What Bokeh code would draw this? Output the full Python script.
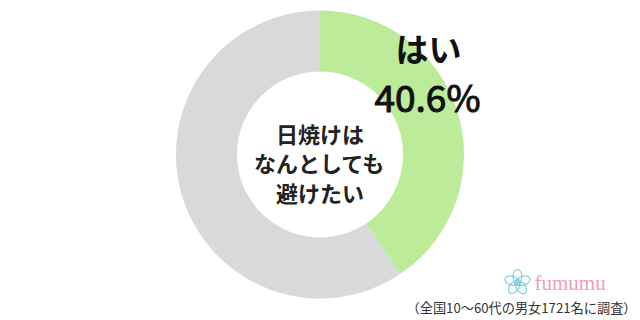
import numpy as np
from bokeh.plotting import figure
from bokeh.models import Range1d
from bokeh.core.properties import value
from bokeh.embed import file_html
from bokeh.resources import INLINE

# data
labels = ["はい", "いいえ"]
values = [40.6, 59.4]
colors = ["#bcec9a", "#d9d9d9"]
center_lines = ["日焼けは", "なんとしても", "避けたい"]
label_text = "はい"
pct_text = "40.6%"
note_text = "（全国10〜60代の男女1721名に調査）"
brand = "fumumu"

W, H = 640, 320
p = figure(width=W, height=H, output_backend="svg", toolbar_location=None,
           x_range=Range1d(0, W), y_range=Range1d(0, H), min_border=0)
p.axis.visible = False
p.grid.visible = False
p.outline_line_color = None
p.background_fill_color = "white"
p.border_fill_color = "white"

cx, cy = 319.5, H - 154
r_out, r_in = 144, 83
fr = np.array(values) / sum(values)
ends = np.cumsum(fr)
starts = ends - fr
start_a = np.pi / 2 - 2 * np.pi * starts
end_a = np.pi / 2 - 2 * np.pi * ends
p.annular_wedge(x=cx, y=cy, inner_radius=r_in, outer_radius=r_out,
                start_angle=start_a, end_angle=end_a, direction="clock",
                fill_color=colors, line_color=None)

font = value("Noto Sans CJK JP")
# center text
for i, t in enumerate(center_lines):
    p.text(x=[cx], y=[H - (132 + 29.5 * i)], text=[t], text_font=font,
           text_font_size="22px", text_font_style="bold", text_color="#222222",
           text_align="center", text_baseline="middle")

p.text(x=[428], y=[H - 47], text=[label_text], text_font=font,
       text_font_size="33px", text_font_style="bold", text_color="#111111",
       text_align="center", text_baseline="middle")
p.text(x=[427], y=[H - 95], text=[pct_text], text_font=font,
       text_font_size="37px", text_color="#111111",
       text_outline_color="#111111",
       text_align="center", text_baseline="middle")

p.text(x=[636], y=[H - 307], text=[note_text], text_font=font,
       text_font_size="13.2px", text_color="#333333",
       text_align="right", text_baseline="middle")

# logo
fx, fy = 517, H - 282
ang = np.pi / 2 + np.arange(5) * 2 * np.pi / 5
p.ellipse(x=fx + 6 * np.cos(ang), y=fy + 6 * np.sin(ang), width=9, height=14,
          angle=ang - np.pi / 2, fill_color=None, line_color="#7fd0df", line_width=1.2)
p.circle(x=[fx], y=[fy], radius=3, fill_color=None, line_color="#7fd0df", line_width=1.2)
p.text(x=[534], y=[H - 282], text=[brand], text_font=value("Liberation Serif"),
       text_font_size="21px", text_color="#f29bc0",
       text_align="left", text_baseline="middle")

open("out.html", "w").write(file_html(p, INLINE))
